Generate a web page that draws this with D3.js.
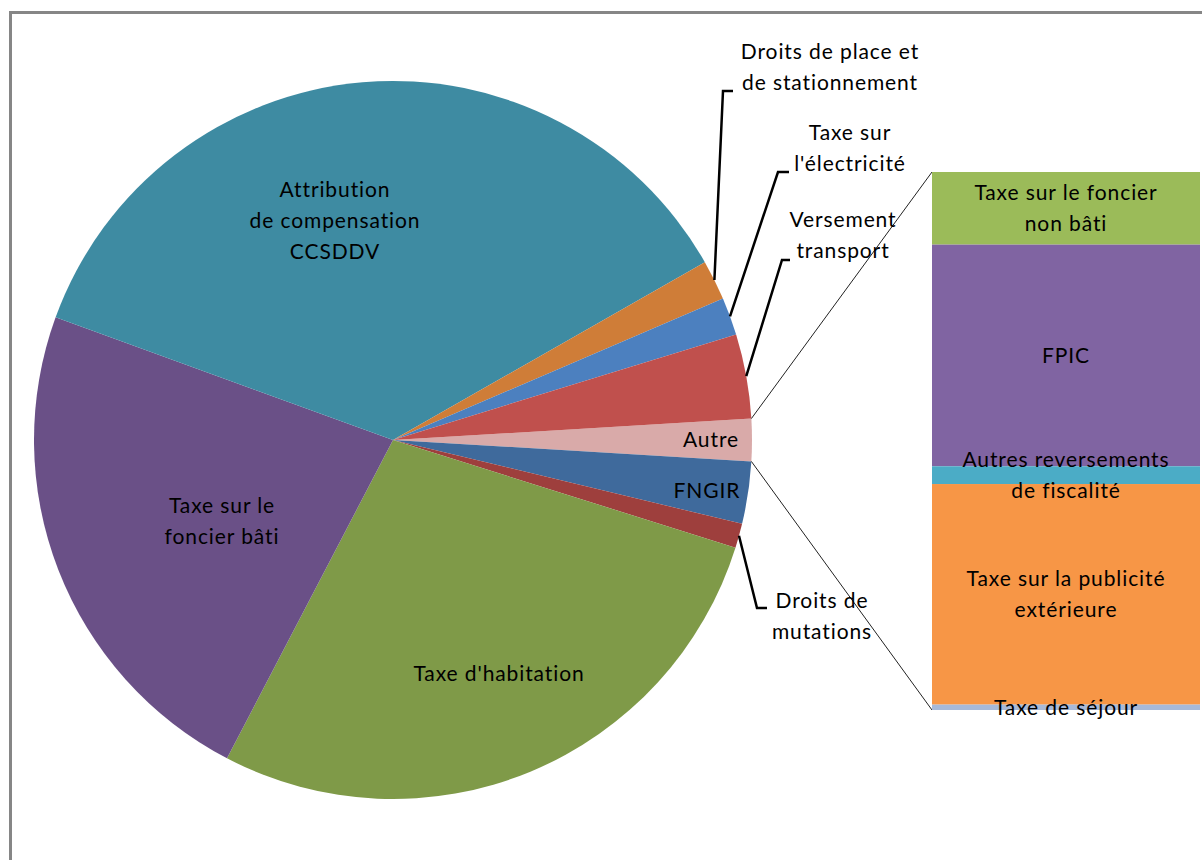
<!DOCTYPE html>
<html>
<head>
<meta charset="utf-8">
<script src="https://cdn.jsdelivr.net/npm/d3@7"></script>
<style>
  html, body { margin: 0; padding: 0; background: #fff; overflow: hidden; }
  svg { display: block; }
  text { font-family: Lato, "Open Sans", sans-serif; font-size: 21px; letter-spacing: 0.9px; fill: #000; }
</style>
</head>
<body>
<svg id="chart" width="1202" height="860"></svg>
<script>
// Pie slices (share of total revenue, %), clockwise starting with "Autre"
const pieCategories = [
  "Autre", "FNGIR", "Droits de mutations", "Taxe d'habitation",
  "Taxe sur le foncier bâti", "Attribution de compensation CCSDDV",
  "Droits de place et de stationnement", "Taxe sur l'électricité", "Versement transport"
];
const pieValues = [1.9, 2.8, 1.1, 27.8, 22.9, 36.2, 1.8, 1.7, 3.8];
const pieColors = ["#D9AAA9", "#3F6A9C", "#9E3F3D", "#7F9A48", "#6A5087", "#3E8BA2", "#CF7D38", "#4C80BF", "#C0504D"];

// Breakdown of "Autre" (share of Autre, %), top to bottom
const barCategories = [
  "Taxe sur le foncier non bâti", "FPIC", "Autres reversements de fiscalité",
  "Taxe sur la publicité extérieure", "Taxe de séjour"
];
const barValues = [13.5, 41.2, 3.3, 41.0, 1.0];
const barColors = ["#9BBB59", "#8064A2", "#4BACC6", "#F79646", "#A7B9D8"];

// Label text lines
const pieLabelLines = [
  ["Autre"], ["FNGIR"], ["Droits de", "mutations"], ["Taxe d'habitation"],
  ["Taxe sur le", "foncier bâti"], ["Attribution", "de compensation", "CCSDDV"],
  ["Droits de place et", "de stationnement"], ["Taxe sur", "l'électricité"], ["Versement", "transport"]
];
const barLabelLines = [
  ["Taxe sur le foncier", "non bâti"], ["FPIC"], ["Autres reversements", "de fiscalité"],
  ["Taxe sur la publicité", "extérieure"], ["Taxe de séjour"]
];

// Layout
const cx = 393, cy = 440, R = 359;
const barX0 = 932, barX1 = 1200, barY0 = 172, barY1 = 710;
const lineH = 31;
// label placement: inside labels {x,y}; outside labels with leader elbow {x,y,ex,ey,hx}
const pieLabelPos = [
  {x: 711, y: 440}, {x: 707, y: 491}, {x: 822, y: 616, ex: 757, ey: 608, hx: 767},
  {x: 499, y: 674}, {x: 222, y: 521}, {x: 335, y: 221},
  {x: 830, y: 67, ex: 723, ey: 91, hx: 733}, {x: 850, y: 148, ex: 778, ey: 172, hx: 789},
  {x: 843, y: 235, ex: 782, ey: 260, hx: 790}
];

const svg = d3.select("#chart");

// frame
svg.append("rect")
  .attr("x", 10.5).attr("y", 12.5).attr("width", 1200).attr("height", 860)
  .attr("fill", "none").attr("stroke", "#868686").attr("stroke-width", 3);

const total = d3.sum(pieValues);
const autreAngle = pieValues[0] / total * 2 * Math.PI;
const start = Math.PI / 2 - autreAngle / 2;

const pie = d3.pie().sort(null).value(d => d)
  .startAngle(start).endAngle(start + 2 * Math.PI);
const arcs = pie(pieValues);
const arc = d3.arc().innerRadius(0).outerRadius(R);

const g = svg.append("g").attr("transform", `translate(${cx},${cy})`);
g.selectAll("path").data(arcs).join("path")
  .attr("d", arc)
  .attr("fill", (d, i) => pieColors[i]);

// screen point on the rim at angle a (d3 convention: 0 = up, clockwise)
const rim = (a, r = R) => [cx + r * Math.sin(a), cy - r * Math.cos(a)];

// connector lines from the "Autre" slice to the bar
const a0 = arcs[0];
const [tx, ty] = rim(a0.startAngle);
const [bx, by] = rim(a0.endAngle);
svg.append("line").attr("x1", tx).attr("y1", ty).attr("x2", barX0).attr("y2", barY0)
  .attr("stroke", "#222").attr("stroke-width", 1);
svg.append("line").attr("x1", bx).attr("y1", by).attr("x2", barX0).attr("y2", barY1)
  .attr("stroke", "#222").attr("stroke-width", 1);

// stacked bar
const barTotal = d3.sum(barValues);
const y = d3.scaleLinear().domain([0, barTotal]).range([barY0, barY1]);
let cum = 0;
const barData = barValues.map((v, i) => { const d = {i, v, y0: cum, y1: cum + v}; cum += v; return d; });
svg.append("g").selectAll("rect").data(barData).join("rect")
  .attr("x", barX0).attr("width", barX1 - barX0)
  .attr("y", d => y(d.y0)).attr("height", d => y(d.y1) - y(d.y0))
  .attr("fill", d => barColors[d.i]);

// leader lines for small slices
arcs.forEach((d, i) => {
  const p = pieLabelPos[i];
  if (p.ex === undefined) return;
  const mid = (d.startAngle + d.endAngle) / 2;
  const [sx, sy] = rim(mid);
  svg.append("polyline")
    .attr("points", `${sx},${sy} ${p.ex},${p.ey} ${p.hx},${p.ey}`)
    .attr("fill", "none").attr("stroke", "#000").attr("stroke-width", 2.5);
});

// multi-line centred text
function drawLabel(lines, x, yc) {
  const t = svg.append("text").attr("text-anchor", "middle");
  const y0 = yc - (lines.length - 1) * lineH / 2;
  lines.forEach((s, k) => {
    t.append("tspan").attr("x", x).attr("y", y0 + k * lineH).attr("dy", "0.35em").text(s);
  });
}

pieLabelLines.forEach((lines, i) => drawLabel(lines, pieLabelPos[i].x, pieLabelPos[i].y));
barData.forEach(d => drawLabel(barLabelLines[d.i], (barX0 + barX1) / 2, (y(d.y0) + y(d.y1)) / 2));
</script>
</body>
</html>
